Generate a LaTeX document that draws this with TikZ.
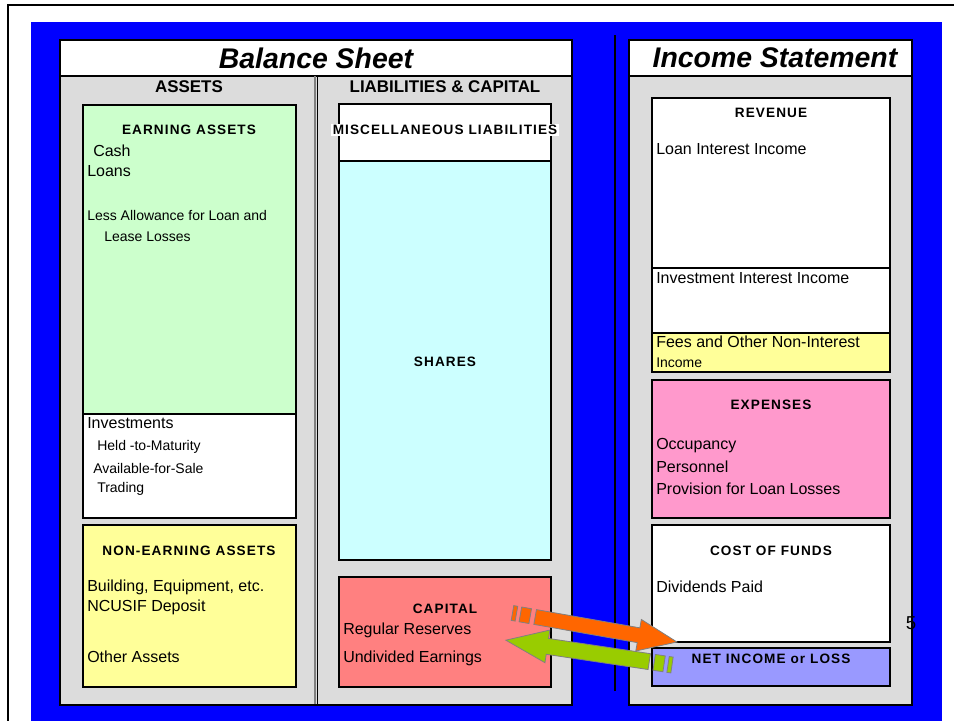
\documentclass[tikz,border=0pt]{standalone}
\usepackage{fontspec}
\setmainfont{Liberation Sans}
\newfontfamily\capfont[LetterSpace=8]{Liberation Sans}

\definecolor{sheetblue}{HTML}{0000FF}
\definecolor{panelgray}{HTML}{DCDCDC}
\definecolor{earngreen}{HTML}{CCFFCC}
\definecolor{noteyellow}{HTML}{FFFF99}
\definecolor{sharecyan}{HTML}{CCFFFF}
\definecolor{capsalmon}{HTML}{FF8080}
\definecolor{exppink}{HTML}{FF99CC}
\definecolor{netlilac}{HTML}{9999FF}
\definecolor{floworange}{HTML}{FF6600}
\definecolor{flowlime}{HTML}{99CC00}

\tikzset{
  panel/.style={line width=1.5pt},
  box/.style={draw=black, line width=1pt},
  arrowedge/.style={draw=gray, line width=0.6pt},
  title/.style={font=\bfseries\itshape\fontsize{21.3}{24}\selectfont},
  colhead/.style={font=\bfseries\fontsize{12.7}{15}\selectfont},
  capline/.style={font=\capfont\bfseries\fontsize{10.2}{12}\selectfont},
  item/.style={anchor=west, inner sep=0pt, font=\fontsize{12}{14}\selectfont},
  small/.style={anchor=west, inner sep=0pt, font=\fontsize{10.5}{12}\selectfont},
}

\begin{document}
\begin{tikzpicture}[x=0.75pt, y=-0.75pt]
\useasboundingbox (0,0) rectangle (954,721);

% frame and background
\draw[line width=1.5pt] (8,721) -- (8,5) -- (954,5);
\fill[sheetblue] (31,22) rectangle (942,721);
\draw[line width=1.5pt] (615,35) -- (615,691);

% balance sheet panel
\fill[panelgray] (60,76) rectangle (572,705);
\fill[white] (60,40) rectangle (572,76);
\draw[line width=0.8pt] (60,76) -- (572,76);
\draw[gray, line width=0.8pt] (315,76) -- (315,705);
\draw[line width=0.9pt] (317.5,76) -- (317.5,705);
\draw[panel] (60,40) rectangle (572,705);

\draw[box, fill=earngreen] (83,105) rectangle (296,414);
\draw[box, fill=white] (83,414) rectangle (296,518);
\draw[box, fill=noteyellow] (83,525) rectangle (296,687);
\draw[box, fill=white] (339,104) rectangle (551,161);
\draw[box, fill=sharecyan] (339,161) rectangle (551,560);
\draw[box, fill=capsalmon] (339,577) rectangle (551,687);

% income statement panel
\fill[panelgray] (629,76) rectangle (912,705);
\fill[white] (629,40) rectangle (912,76);
\draw[line width=0.8pt] (629,76) -- (912,76);
\draw[panel] (629,40) rectangle (912,705);

\draw[box, fill=white] (652,98) rectangle (890,268);
\draw[box, fill=white] (652,268) rectangle (890,333);
\draw[box, fill=noteyellow] (652,333) rectangle (890,372);
\draw[box, fill=exppink] (652,380) rectangle (890,518);
\draw[box, fill=white] (652,525) rectangle (890,642);
\draw[box, fill=netlilac] (652,648) rectangle (890,686);

% headings
\node[title] (bs-title) at (316,58) {Balance Sheet};
\node[title] (is-title) at (775,58) {Income Statement};
\node[colhead] (assets-head) at (189,87) {ASSETS};
\node[colhead] (liab-head) at (445,87) {LIABILITIES \& CAPITAL};

% assets
\node[capline] (earn-cap) at (189,130) {EARNING ASSETS};
\node[item] (cash) at (93,151) {Cash};
\node[item] (loans) at (87,171) {Loans};
\node[small] (allow-a) at (87,215) {Less Allowance for Loan and};
\node[small] (allow-b) at (104,237) {Lease Losses};
\node[item] (invest) at (87,423) {Investments};
\node[small] (htm) at (97,447) {Held -to-Maturity};
\node[small] (afs) at (93,468) {Available-for-Sale};
\node[small] (trading) at (97,489) {Trading};
\node[capline] (nonearn-cap) at (189,551) {NON-EARNING ASSETS};
\node[item] (building) at (87,587) {Building, Equipment, etc.};
\node[item] (ncusif) at (87,607) {NCUSIF Deposit};
\node[item] (other) at (87,657) {Other Assets};

% liabilities and capital
\node[capline, fill=white, inner sep=1pt] (misc-cap) at (445,130) {MISCELLANEOUS LIABILITIES};
\node[capline] (shares-cap) at (445,362) {SHARES};
\node[capline] (capital-cap) at (445,609) {CAPITAL};
\node[item] (reserves) at (343,630) {Regular Reserves};
\node[item] (undivided) at (343,658) {Undivided Earnings};

% income statement
\node[capline] (rev-cap) at (771,113) {REVENUE};
\node[item] (loan-int) at (656,149) {Loan Interest Income};
\node[item] (inv-int) at (656,278) {Investment Interest Income};
\node[item] (fees-a) at (656,342) {Fees and Other Non-Interest};
\node[small] (fees-b) at (656,363) {Income};
\node[capline] (exp-cap) at (771,405) {EXPENSES};
\node[item] (occupancy) at (656,446) {Occupancy};
\node[item] (personnel) at (656,467) {Personnel};
\node[item] (provision) at (656,489) {Provision for Loan Losses};
\node[capline] (cof-cap) at (771,551) {COST OF FUNDS};
\node[item] (dividends) at (656,587) {Dividends Paid};
\node[capline] (net-cap) at (771,659) {NET INCOME or LOSS};

% striped arrows between capital and net income
\coordinate (orange-tail) at (512.5,613);
\coordinate (lime-tail) at (672,665);
\begin{scope}[shift={(orange-tail)}, rotate=-10]
  \draw[arrowedge, fill=floworange] (0,-7.5) rectangle (4,7.5);
  \draw[arrowedge, fill=floworange] (8,-7.5) rectangle (18,7.5);
  \draw[arrowedge, fill=floworange] (23,-7.5) -- (128,-7.5) -- (128,-16)
    -- (167,0) -- (128,16) -- (128,7.5) -- (23,7.5) -- cycle;
\end{scope}
\begin{scope}[shift={(lime-tail)}, rotate=171.5]
  \draw[arrowedge, fill=flowlime] (0,-8) rectangle (4,8);
  \draw[arrowedge, fill=flowlime] (8,-8) rectangle (18,8);
  \draw[arrowedge, fill=flowlime] (23,-8) -- (126,-8) -- (126,-16.5)
    -- (168,0) -- (126,16.5) -- (126,8) -- (23,8) -- cycle;
\end{scope}

\node[font=\fontsize{14}{16}\selectfont] (page-num) at (911,623) {5};
\end{tikzpicture}
\end{document}
